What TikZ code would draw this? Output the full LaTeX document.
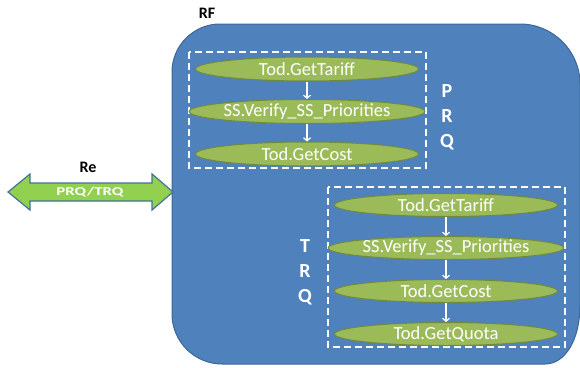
\documentclass[tikz,border=0pt]{standalone}
\usepackage{fontspec}
\setmainfont{Carlito}
\usepackage{tikz}
\usetikzlibrary{shapes,arrows.meta,positioning}

\definecolor{rfblue}{HTML}{4F81BD}
\definecolor{rfedge}{HTML}{3B6698}
\definecolor{opgreen}{HTML}{9BBB59}
\definecolor{opedge}{HTML}{71893F}
\definecolor{linkgreen}{HTML}{92D050}
\definecolor{linkedge}{HTML}{41719C}

\begin{document}
\begin{tikzpicture}[
			x = 1pt, y = -1pt,
			opnode/.style = {ellipse, fill = opgreen, draw = opedge, line width = 1pt,
				minimum width = 223pt, minimum height = 24pt, inner sep = 0pt,
				text = white, font = \fontsize{18.5}{20}\selectfont},
			flowarrow/.style = {white, line width = 1.2pt, -{Straight Barb[length=3pt,width=7pt]}},
			groupbox/.style = {white, line width = 1.5pt, dash pattern = on 7pt off 4pt},
			sidelabel/.style = {text = white, align = center, font = \fontsize{20}{25}\selectfont\bfseries},
			titlelabel/.style = {text = black, font = \fontsize{16}{17}\selectfont\bfseries}
			]

			\useasboundingbox (0,0) rectangle (580,367);

			% RF block
			\draw[fill = rfblue, draw = rfedge, line width = 1pt]
				(172,72) .. controls (172,45.6) and (193.6,24) .. (220,24)
				-- (520,24) .. controls (553,24) and (580,51) .. (580,84)
				-- (580,305) .. controls (580,340) and (565,364) .. (545,364)
				-- (222,364) .. controls (194.5,364) and (172,341.5) .. (172,314) -- cycle;
			\node[titlelabel] (rfLabel) at (207,13) {RF};

			% PRQ group
			\draw[groupbox] (189,52) rectangle (426,168);
			\node[opnode] (prqTariff) at (307,69) {Tod.GetTariff};
			\node[opnode, below = 17.5pt of prqTariff] (prqVerify) {SS.Verify\_SS\_Priorities};
			\node[opnode, below = 17.5pt of prqVerify] (prqCost) {Tod.GetCost};
			\draw[flowarrow] (prqTariff) -- (prqVerify);
			\draw[flowarrow] (prqVerify) -- (prqCost);
			\node[sidelabel] (prqLabel) at (447,117) {P\\R\\Q};

			% TRQ group
			\draw[groupbox] (328,187) rectangle (565,347);
			\node[opnode, minimum height = 23pt] (trqTariff) at (446,205) {Tod.GetTariff};
			\node[opnode, minimum height = 23pt, below = 19pt of trqTariff] (trqVerify) {SS.Verify\_SS\_Priorities};
			\node[opnode, minimum height = 23pt, below = 19pt of trqVerify] (trqCost) {Tod.GetCost};
			\node[opnode, minimum height = 23pt, below = 19pt of trqCost] (trqQuota) {Tod.GetQuota};
			\draw[flowarrow] (trqTariff) -- (trqVerify);
			\draw[flowarrow] (trqVerify) -- (trqCost);
			\draw[flowarrow] (trqCost) -- (trqQuota);
			\node[sidelabel] (trqLabel) at (305,272) {T\\R\\Q};

			% Re link
			\draw[fill = linkgreen, draw = linkedge, line width = 1.2pt]
				(8,192) -- (30,174) -- (30,183) -- (152,183) -- (152,174) -- (173,192)
				-- (152,210) -- (152,201) -- (30,201) -- (30,210) -- cycle;
			\node[text = white, font = \fontsize{12}{13}\selectfont\bfseries] (linkText) at (90,192) {\scalebox{1.4}[1]{PRQ/TRQ}};
			\node[titlelabel] (reLabel) at (88,167) {Re};

		\end{tikzpicture}
\end{document}
